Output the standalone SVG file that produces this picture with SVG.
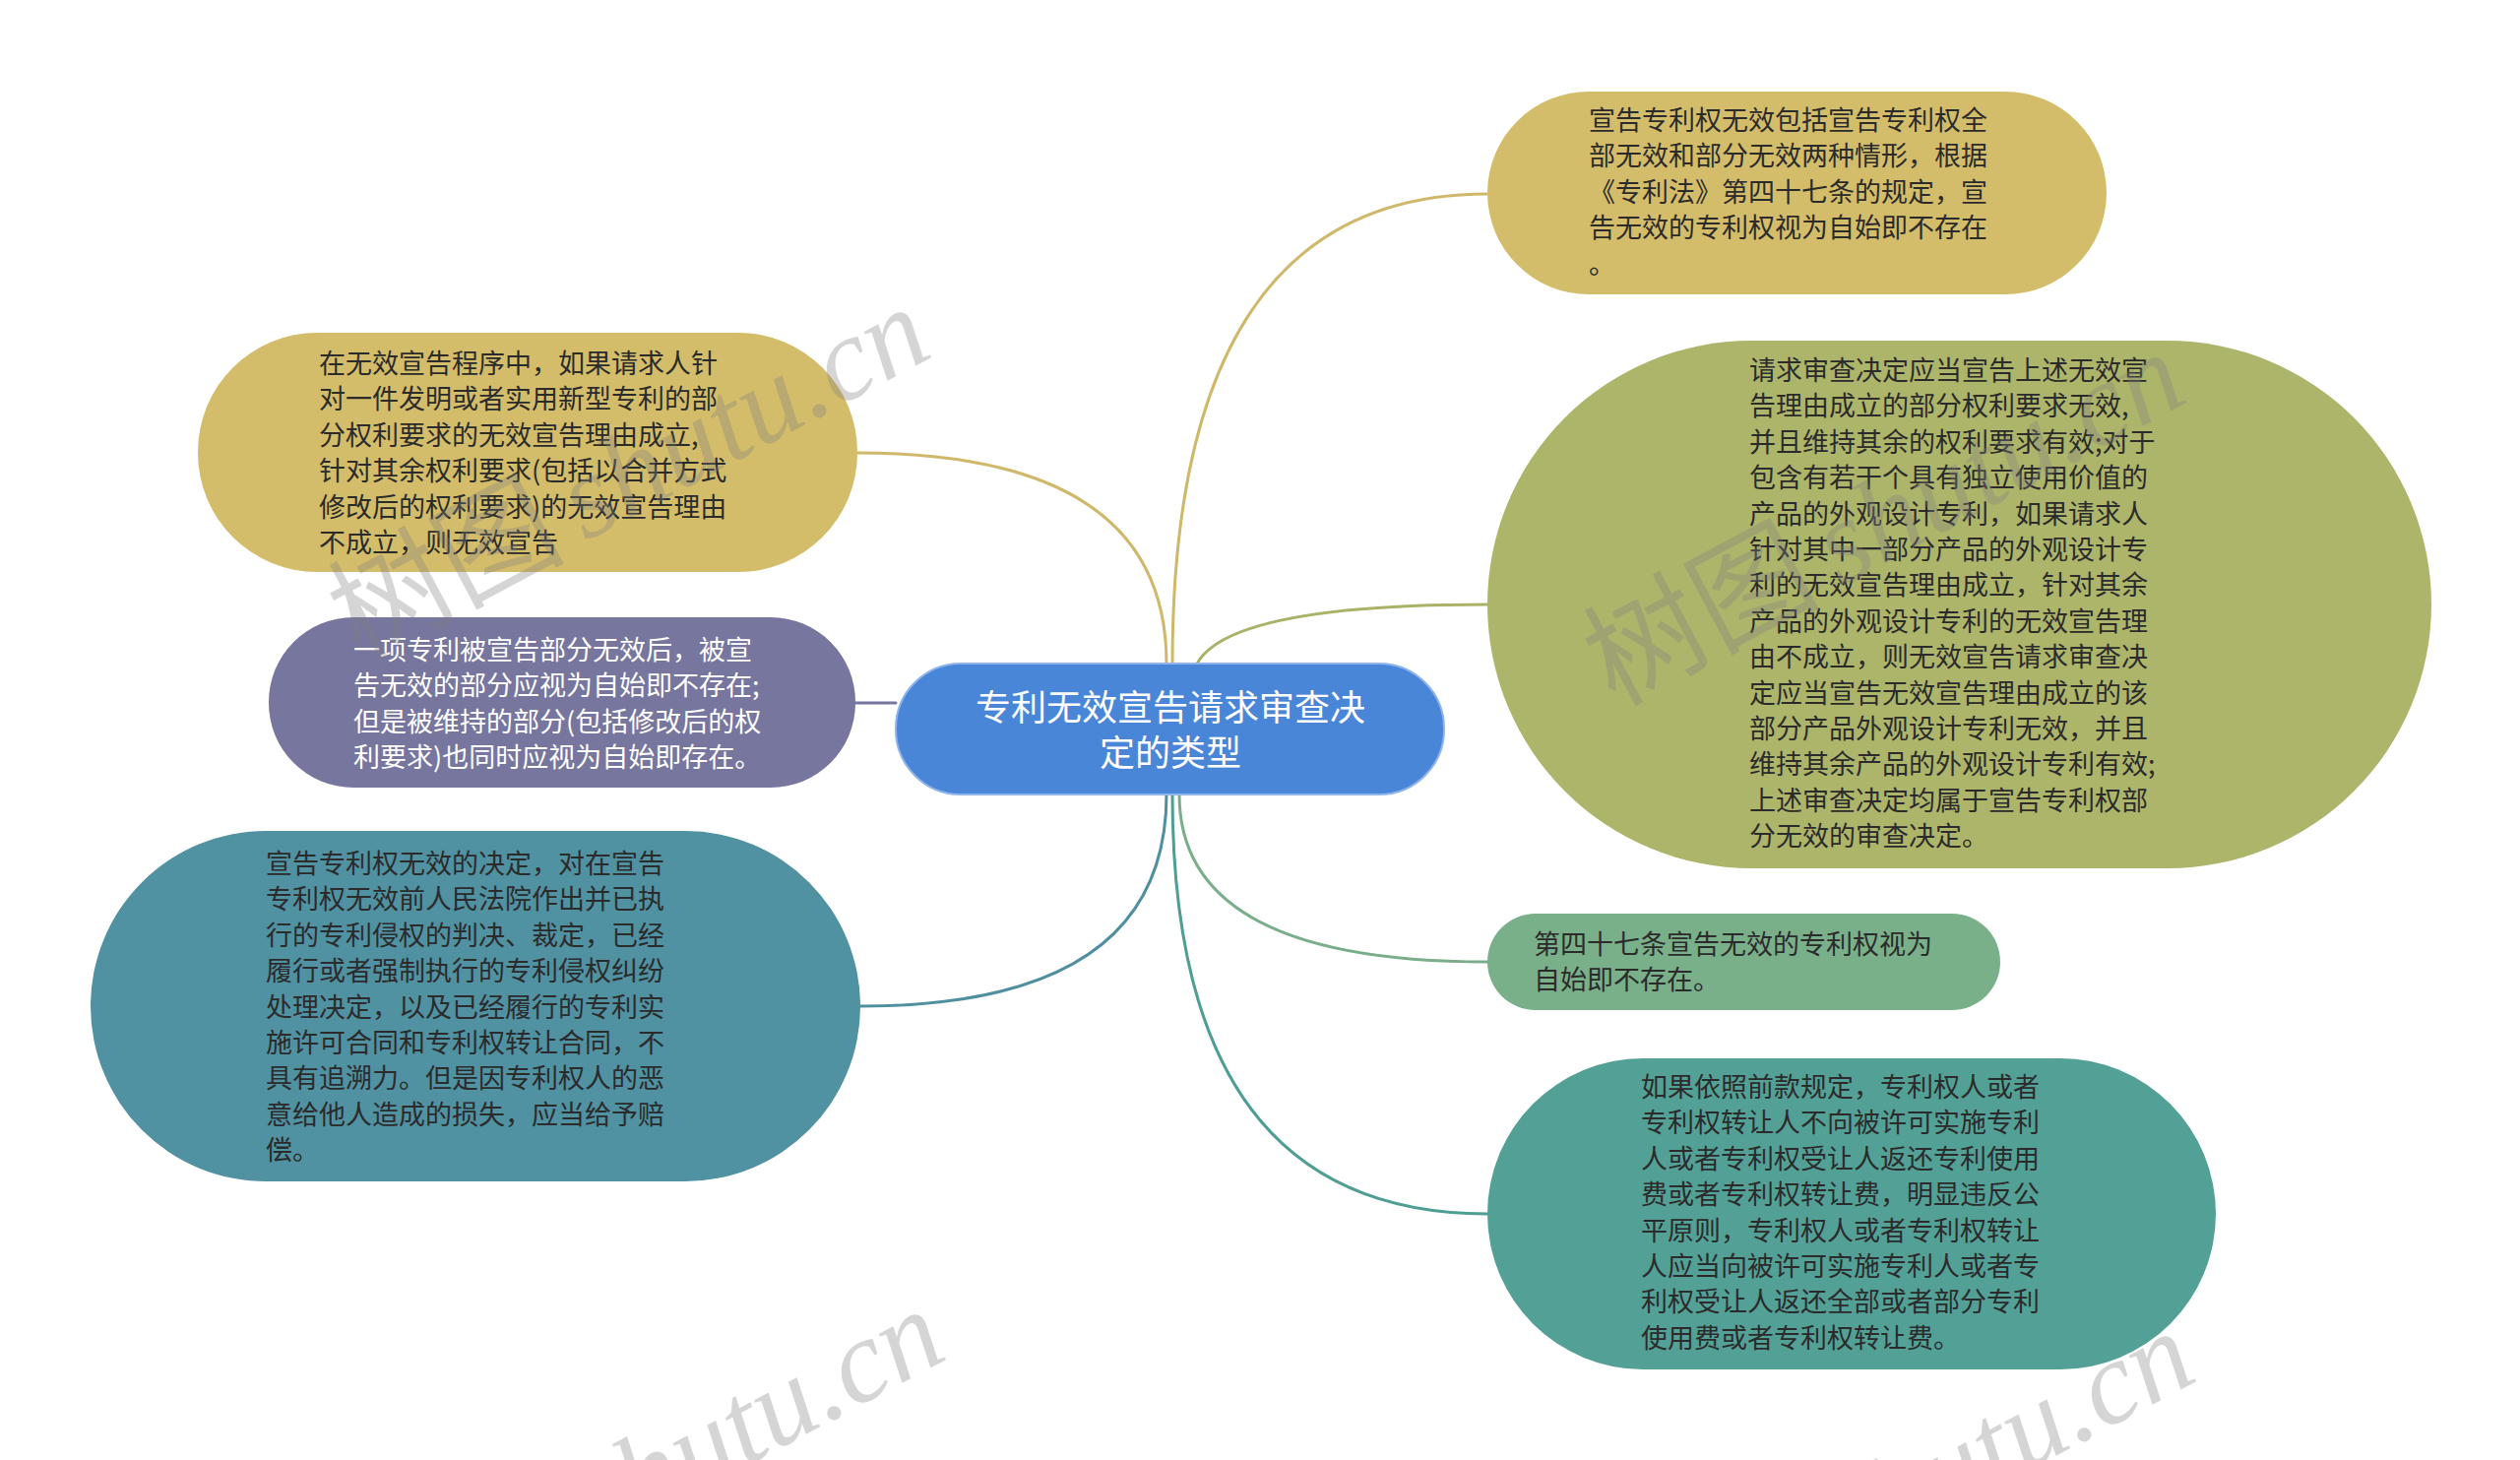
<svg xmlns="http://www.w3.org/2000/svg" width="2560" height="1483" viewBox="0 0 2560 1483">
<style>
.t{font-family:"Noto Sans CJK SC","Liberation Sans",sans-serif;font-size:27px;fill:#2b2b2b}
.w{fill:#ffffff}
.c{font-family:"Noto Sans CJK SC","Liberation Sans",sans-serif;font-size:36px;fill:#ffffff;text-anchor:middle}
.ln{fill:none;stroke-width:3;stroke-linecap:round}
.wm{font-size:120px;fill:#808080;fill-opacity:0.33}
.wmc{font-family:"Noto Sans CJK SC",sans-serif}
.wms{font-family:"Liberation Serif",serif;font-style:italic}
</style>
<rect width="2560" height="1483" fill="#ffffff"/>
<g id="connectors">
<path class="ln" stroke="#cfb86a" d="M1185,674 Q1185,460 871,460"/>
<path class="ln" stroke="#cfb86a" d="M1191,674 Q1191,197 1511,197"/>
<path class="ln" stroke="#a9b266" d="M1215,676 Q1245,614 1511,614"/>
<path class="ln" stroke="#77769e" d="M869,714 L910,714"/>
<path class="ln" stroke="#4f8fa0" d="M1185,807 Q1185,1022 874,1022"/>
<path class="ln" stroke="#7aae8a" d="M1198,807 Q1198,977 1511,977"/>
<path class="ln" stroke="#4f9e94" d="M1191,807 Q1191,1233 1511,1233"/>
</g>
<g id="node-center">
<rect x="910" y="674" width="557" height="133" rx="66" ry="66" fill="#4a86d8" stroke="#8fb4ea" stroke-width="2"/>
<text class="c" x="1189" y="732">专利无效宣告请求审查决</text>
<text class="c" x="1189" y="778">定的类型</text>
</g>
<g id="node-tr-gold">
<rect x="1511" y="93" width="629" height="206" rx="103" ry="103" fill="#d4bd6a"/>
<text class="t" x="1614" y="132">宣告专利权无效包括宣告专利权全</text>
<text class="t" x="1614" y="168.4">部无效和部分无效两种情形，根据</text>
<text class="t" x="1614" y="204.8">《专利法》第四十七条的规定，宣</text>
<text class="t" x="1614" y="241.2">告无效的专利权视为自始即不存在</text>
<text class="t" x="1614" y="277.6">。</text>
</g>
<g id="node-l-gold">
<rect x="201" y="338" width="670" height="243" rx="121" ry="121" fill="#d4bd6a"/>
<text class="t" x="324" y="379">在无效宣告程序中，如果请求人针</text>
<text class="t" x="324" y="415.4">对一件发明或者实用新型专利的部</text>
<text class="t" x="324" y="451.8">分权利要求的无效宣告理由成立,</text>
<text class="t" x="324" y="488.2">针对其余权利要求(包括以合并方式</text>
<text class="t" x="324" y="524.6">修改后的权利要求)的无效宣告理由</text>
<text class="t" x="324" y="561">不成立，则无效宣告</text>
</g>
<g id="node-l-purple">
<rect x="273" y="627" width="596" height="173" rx="86" ry="86" fill="#77769e"/>
<text class="t w" x="359" y="670">一项专利被宣告部分无效后，被宣</text>
<text class="t w" x="359" y="706.4">告无效的部分应视为自始即不存在;</text>
<text class="t w" x="359" y="742.8">但是被维持的部分(包括修改后的权</text>
<text class="t w" x="359" y="779.2">利要求)也同时应视为自始即存在。</text>
</g>
<g id="node-l-teal">
<rect x="92" y="844" width="782" height="356" rx="178" ry="178" fill="#5091a2"/>
<text class="t" x="270" y="887">宣告专利权无效的决定，对在宣告</text>
<text class="t" x="270" y="923.4">专利权无效前人民法院作出并已执</text>
<text class="t" x="270" y="959.8">行的专利侵权的判决、裁定，已经</text>
<text class="t" x="270" y="996.2">履行或者强制执行的专利侵权纠纷</text>
<text class="t" x="270" y="1032.6">处理决定，以及已经履行的专利实</text>
<text class="t" x="270" y="1069">施许可合同和专利权转让合同，不</text>
<text class="t" x="270" y="1105.4">具有追溯力。但是因专利权人的恶</text>
<text class="t" x="270" y="1141.8">意给他人造成的损失，应当给予赔</text>
<text class="t" x="270" y="1178.2">偿。</text>
</g>
<g id="node-r-olive">
<rect x="1511" y="346" width="959" height="536" rx="268" ry="268" fill="#adb56b"/>
<text class="t" x="1777" y="386">请求审查决定应当宣告上述无效宣</text>
<text class="t" x="1777" y="422.4">告理由成立的部分权利要求无效,</text>
<text class="t" x="1777" y="458.8">并且维持其余的权利要求有效;对于</text>
<text class="t" x="1777" y="495.2">包含有若干个具有独立使用价值的</text>
<text class="t" x="1777" y="531.6">产品的外观设计专利，如果请求人</text>
<text class="t" x="1777" y="568">针对其中一部分产品的外观设计专</text>
<text class="t" x="1777" y="604.4">利的无效宣告理由成立，针对其余</text>
<text class="t" x="1777" y="640.8">产品的外观设计专利的无效宣告理</text>
<text class="t" x="1777" y="677.2">由不成立，则无效宣告请求审查决</text>
<text class="t" x="1777" y="713.6">定应当宣告无效宣告理由成立的该</text>
<text class="t" x="1777" y="750">部分产品外观设计专利无效，并且</text>
<text class="t" x="1777" y="786.4">维持其余产品的外观设计专利有效;</text>
<text class="t" x="1777" y="822.8">上述审查决定均属于宣告专利权部</text>
<text class="t" x="1777" y="859.2">分无效的审查决定。</text>
</g>
<g id="node-r-green">
<rect x="1511" y="928" width="521" height="98" rx="49" ry="49" fill="#79b08a"/>
<text class="t" x="1558" y="969">第四十七条宣告无效的专利权视为</text>
<text class="t" x="1558" y="1005.4">自始即不存在。</text>
</g>
<g id="node-r-teal">
<rect x="1511" y="1075" width="740" height="316" rx="158" ry="158" fill="#53a196"/>
<text class="t" x="1667" y="1114">如果依照前款规定，专利权人或者</text>
<text class="t" x="1667" y="1150.4">专利权转让人不向被许可实施专利</text>
<text class="t" x="1667" y="1186.8">人或者专利权受让人返还专利使用</text>
<text class="t" x="1667" y="1223.2">费或者专利权转让费，明显违反公</text>
<text class="t" x="1667" y="1259.6">平原则，专利权人或者专利权转让</text>
<text class="t" x="1667" y="1296">人应当向被许可实施专利人或者专</text>
<text class="t" x="1667" y="1332.4">利权受让人返还全部或者部分专利</text>
<text class="t" x="1667" y="1368.8">使用费或者专利权转让费。</text>
</g>
<g id="watermarks">
<text class="wm" transform="translate(365,672) rotate(-28)"><tspan class="wmc">树图</tspan><tspan class="wms" dx="20">shutu.cn</tspan></text>
<text class="wm" transform="translate(1640,718) rotate(-28)"><tspan class="wmc">树图</tspan><tspan class="wms" dx="20">shutu.cn</tspan></text>
<text class="wm" transform="translate(380,1690) rotate(-28)"><tspan class="wmc">树图</tspan><tspan class="wms" dx="20">shutu.cn</tspan></text>
<text class="wm" transform="translate(1650,1712) rotate(-28)"><tspan class="wmc">树图</tspan><tspan class="wms" dx="20">shutu.cn</tspan></text>
</g>
</svg>
